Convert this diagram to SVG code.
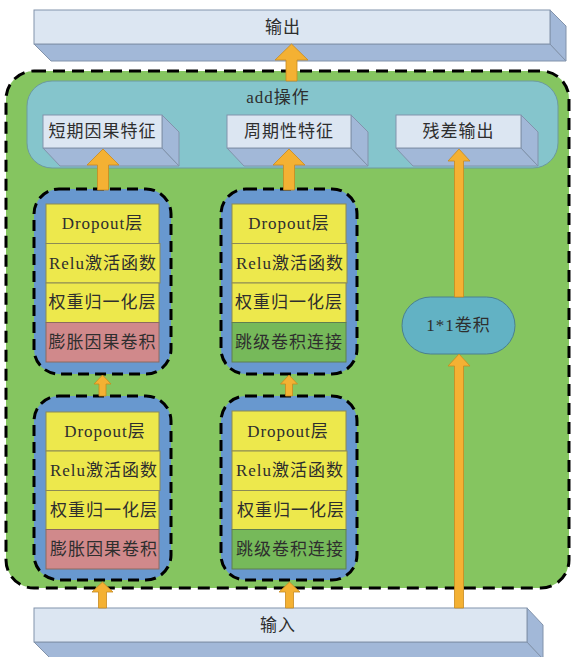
<svg xmlns="http://www.w3.org/2000/svg" width="572" height="657" viewBox="0 0 572 657">
<style>
.t{font-family:"Liberation Serif","Noto Sans CJK SC",serif;font-size:17px;fill:#2e2e2e;text-anchor:middle;dominant-baseline:central;letter-spacing:1px}
.front{fill:#dce6f2;stroke:#8293ab;stroke-width:1}
.side{fill:#a2b8d8;stroke:#8293ab;stroke-width:1}
.blk{fill:#6898cf;stroke:#000;stroke-width:3;stroke-dasharray:11 6}
.y{fill:#ede84c;stroke:#8c8a55;stroke-width:1}
.p{fill:#d0898b;stroke:#8c6a60;stroke-width:1}
.g{fill:#76b95a;stroke:#5f7f50;stroke-width:1}
.arr{fill:#f4b133;stroke:#c88a20;stroke-width:0.8}
</style>
<rect x="0" y="0" width="572" height="657" fill="#ffffff"/>
<g id="container">
<rect x="6" y="71" width="563" height="517" rx="28" fill="#85c560" stroke="#000" stroke-width="3" stroke-dasharray="12 7"/>
</g>
<g id="add">
<rect x="27" y="81" width="531" height="87" rx="25" fill="#85c5cc" stroke="#6c9aa0" stroke-width="1"/>
<text class="t" x="278" y="97">add操作</text>
</g>
<g id="output">
<polygon class="side" points="34,44 550,44 566,61 51,61"/>
<polygon class="side" points="550,10 566,26 566,61 550,44"/>
<rect class="front" x="34" y="10" width="516" height="34"/>
<text class="t" x="283" y="27">输出</text>
</g>
<g id="feat1">
<polygon class="side" points="43,148 162,148 179,166 60,166"/>
<polygon class="side" points="162,115 179,132 179,166 162,148"/>
<rect class="front" x="43" y="115" width="119" height="33"/>
<text class="t" x="102.5" y="131.5">短期因果特征</text>
</g>
<g id="feat2">
<polygon class="side" points="227,148 351,148 368,166 244,166"/>
<polygon class="side" points="351,115 368,132 368,166 351,148"/>
<rect class="front" x="227" y="115" width="124" height="33"/>
<text class="t" x="289" y="131.5">周期性特征</text>
</g>
<g id="feat3">
<polygon class="side" points="396,148 521,148 538,166 413,166"/>
<polygon class="side" points="521,115 538,132 538,166 521,148"/>
<rect class="front" x="396" y="115" width="125" height="33"/>
<text class="t" x="458.5" y="131.5">残差输出</text>
</g>
<g id="blockL1">
<rect class="blk" x="34" y="189" width="137" height="185" rx="25"/>
<rect class="y" x="46" y="204" width="113" height="39.5"/>
<rect class="y" x="46" y="243.5" width="114" height="39.5"/>
<rect class="y" x="46" y="283" width="113" height="39.5"/>
<rect class="p" x="46" y="322.5" width="113" height="39.5"/>
<text class="t" x="102.5" y="223.5">Dropout层</text>
<text class="t" x="103" y="263">Relu激活函数</text>
<text class="t" x="102.5" y="302.5">权重归一化层</text>
<text class="t" x="102.5" y="342">膨胀因果卷积</text>
</g>
<g id="blockR1">
<rect class="blk" x="221" y="189" width="136" height="185" rx="25"/>
<rect class="y" x="232" y="204" width="114" height="39.5"/>
<rect class="y" x="232" y="243.5" width="115" height="39.5"/>
<rect class="y" x="232" y="283" width="114" height="39.5"/>
<rect class="g" x="232" y="322.5" width="114" height="39.5"/>
<text class="t" x="289" y="223.5">Dropout层</text>
<text class="t" x="290" y="263">Relu激活函数</text>
<text class="t" x="289" y="302.5">权重归一化层</text>
<text class="t" x="289" y="342">跳级卷积连接</text>
</g>
<g id="blockL2">
<rect class="blk" x="34" y="396" width="137" height="184" rx="25"/>
<rect class="y" x="46" y="412" width="113" height="39"/>
<rect class="y" x="46" y="451" width="114" height="39.5"/>
<rect class="y" x="46" y="490.5" width="113" height="39"/>
<rect class="p" x="46" y="529.5" width="113" height="39.5"/>
<text class="t" x="105" y="431.5">Dropout层</text>
<text class="t" x="104" y="470.5">Relu激活函数</text>
<text class="t" x="104" y="510">权重归一化层</text>
<text class="t" x="104" y="549">膨胀因果卷积</text>
</g>
<g id="blockR2">
<rect class="blk" x="221" y="396" width="136" height="184" rx="25"/>
<rect class="y" x="232" y="411" width="114" height="40"/>
<rect class="y" x="232" y="451" width="115" height="39.5"/>
<rect class="y" x="232" y="490.5" width="114" height="39"/>
<rect class="g" x="232" y="529.5" width="114" height="39.5"/>
<text class="t" x="288" y="431">Dropout层</text>
<text class="t" x="290" y="470.5">Relu激活函数</text>
<text class="t" x="291" y="510">权重归一化层</text>
<text class="t" x="290" y="549">跳级卷积连接</text>
</g>
<g id="conv11">
<rect x="402" y="297" width="113" height="57" rx="28.5" fill="#62b2c4" stroke="#4a8090" stroke-width="1"/>
<text class="t" x="458.5" y="325.5">1*1卷积</text>
</g>
<g id="input">
<polygon class="side" points="34,642 527,642 543,659 51,659"/>
<polygon class="side" points="527,608 543,625 543,659 527,642"/>
<rect class="front" x="34" y="608" width="493" height="34"/>
<text class="t" x="278" y="625">输入</text>
</g>
<g id="connectors">
<polygon class="arr" points="291.5,44 308,60 297,60 297,81 286,81 286,60 275,60"/>
<polygon class="arr" points="103,149 119,165 108.5,165 108.5,190 97.5,190 97.5,165 87,165"/>
<polygon class="arr" points="289,149 305,165 294.5,165 294.5,190 283.5,190 283.5,165 273,165"/>
<polygon class="arr" points="459,149 470,161 463.5,161 463.5,297 454.5,297 454.5,161 448,161"/>
<polygon class="arr" points="459,354 470,366 463.5,366 463.5,608 454.5,608 454.5,366 448,366"/>
<polygon class="arr" points="102.5,375 111,384 106,384 106,396 99,396 99,384 94,384"/>
<polygon class="arr" points="289,375 297.5,384 292.5,384 292.5,396 285.5,396 285.5,384 280.5,384"/>
<polygon class="arr" points="102.5,582 113,592 106.5,592 106.5,608 98.5,608 98.5,592 92,592"/>
<polygon class="arr" points="289.5,582 300,592 293.5,592 293.5,608 285.5,608 285.5,592 279,592"/>
</g>
</svg>
